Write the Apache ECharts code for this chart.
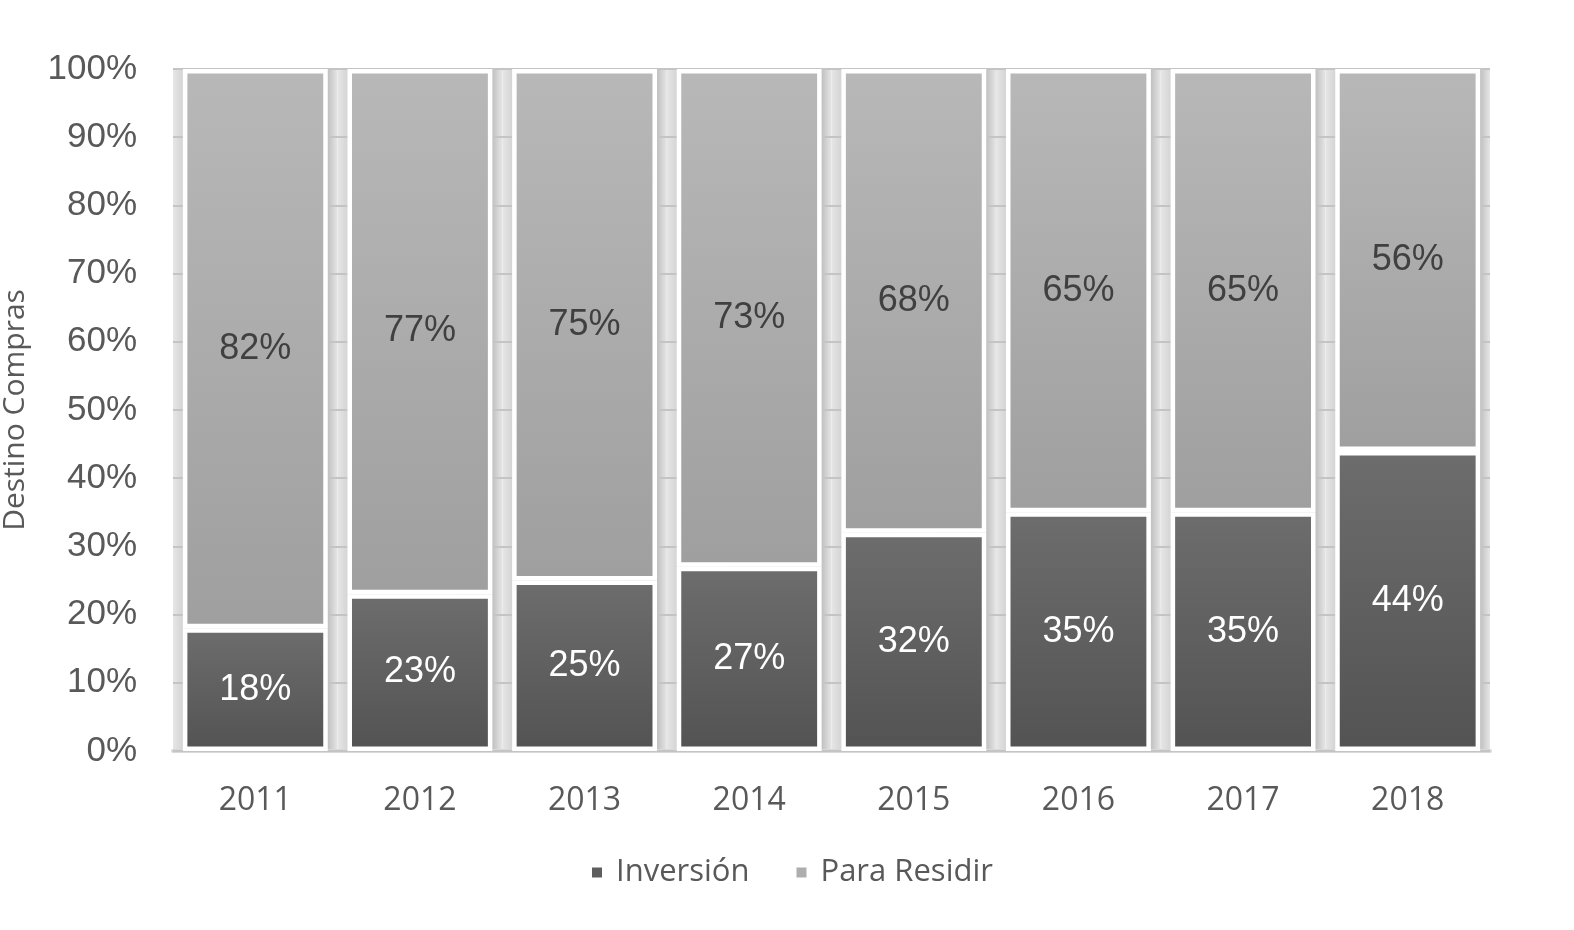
<!DOCTYPE html>
<html>
<head>
<meta charset="utf-8">
<script src="https://cdn.jsdelivr.net/npm/echarts@6/dist/echarts.min.js"></script>
<style>
html,body{margin:0;padding:0;background:#fff;}
#chart{width:1574px;height:930px;}
</style>
</head>
<body>
<div id="chart"></div>
<script>
const years = ['2011','2012','2013','2014','2015','2016','2017','2018'];
const inversion = [18, 23, 25, 27, 32, 35, 35, 44];
const residir = [82, 77, 75, 73, 68, 65, 65, 56];
const yTicks = [0, 10, 20, 30, 40, 50, 60, 70, 80, 90, 100];

const chart = echarts.init(document.getElementById('chart'));
const grad = (a, b) => new echarts.graphic.LinearGradient(0, 0, 0, 1, [{offset: 0, color: a}, {offset: 1, color: b}]);
const txt = '#595959';
const option = {
  animation: false,
  backgroundColor: '#ffffff',
  grid: {left: 173, right: 84, top: 69, bottom: 179, outerBoundsMode: 'none', containLabel: false},
  legend: {
    bottom: 37, left: 585,
    icon: 'rect', itemWidth: 12, itemHeight: 12, itemGap: 45,
    textStyle: {fontFamily: 'Open Sans', fontSize: 31, color: txt, padding: [0, 0, 0, 8]},
    data: [{name: 'Inversión', itemStyle: {color: '#5e5e5e'}}, {name: 'Para Residir', itemStyle: {color: '#aeaeae'}}]
  },
  xAxis: {
    type: 'category', data: years, z: 0,
    axisLine: {show: true, lineStyle: {color: '#d9d9d9', width: 4}},
    axisTick: {show: false},
    axisLabel: {fontFamily: 'Open Sans', fontSize: 32, color: txt, margin: 34},
    splitArea: {show: true, areaStyle: {color: [
      new echarts.graphic.LinearGradient(0, 0, 1, 0, [
        {offset: 0, color: '#e6e6e6'}, {offset: 0.055, color: '#d6d6d6'},
        {offset: 0.945, color: '#c3c3c3'}, {offset: 1, color: '#e6e6e6'}])
    ]}}
  },
  yAxis: {
    type: 'value', min: 0, max: 100, interval: 10, z: 1,
    name: 'Destino Compras', nameLocation: 'middle', nameGap: 143,
    nameTextStyle: {fontFamily: 'Open Sans', fontSize: 30, color: txt},
    axisLine: {show: false}, axisTick: {show: false},
    axisLabel: {fontFamily: 'Liberation Sans', fontSize: 35, color: txt, margin: 36,
      formatter: v => yTicks.includes(v) ? v + '%' : ''},
    splitLine: {lineStyle: {color: '#c4c4c4', width: 2}}
  },
  series: [
    {
      name: 'Inversión', type: 'bar', stack: 'total', barWidth: '88%',
      data: inversion,
      itemStyle: {color: grad('#6d6d6d', '#535353'), borderColor: '#ffffff', borderWidth: 4.5},
      label: {show: true, position: 'inside', formatter: '{c}%', fontFamily: 'Liberation Sans', fontSize: 36, color: '#ffffff'}
    },
    {
      name: 'Para Residir', type: 'bar', stack: 'total', barWidth: '88%',
      data: residir,
      itemStyle: {color: grad('#b8b8b8', '#9f9f9f'), borderColor: '#ffffff', borderWidth: 4.5},
      label: {show: true, position: 'inside', formatter: '{c}%', fontFamily: 'Liberation Sans', fontSize: 36, color: '#404040'}
    }
  ]
};
chart.setOption(option);
</script>
</body>
</html>
